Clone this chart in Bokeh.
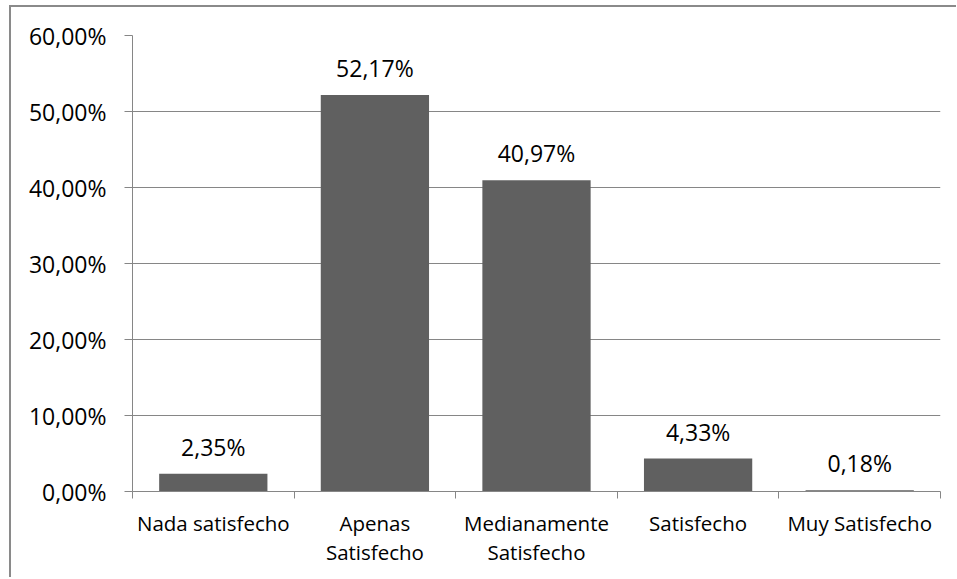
from bokeh.plotting import figure
from bokeh.models import FixedTicker, LabelSet, ColumnDataSource, Range1d
from bokeh.core.properties import value
from bokeh.embed import file_html
from bokeh.resources import INLINE

categories = ["Nada satisfecho", "Apenas\nSatisfecho", "Medianamente\nSatisfecho", "Satisfecho", "Muy Satisfecho"]
values = [2.35, 52.17, 40.97, 4.33, 0.18]
value_labels = ["2,35%", "52,17%", "40,97%", "4,33%", "0,18%"]
y_ticks = [0, 10, 20, 30, 40, 50, 60]
y_tick_labels = ["0,00%", "10,00%", "20,00%", "30,00%", "40,00%", "50,00%", "60,00%"]

FONT = "Open Sans"
FS_NUM = "23px"
FS_CAT = "20.5px"
GRAY = "#868686"
BAR = "#606060"

xs = [i + 0.5 for i in range(len(categories))]
src = ColumnDataSource(dict(x=xs, top=values, lab=value_labels))

p = figure(frame_width=808, frame_height=456, output_backend="svg", toolbar_location=None,
           x_range=Range1d(0, len(categories)), y_range=Range1d(0, 60),
           min_border_left=132, min_border_right=16, min_border_top=35, min_border_bottom=86)
p.outline_line_color = None
p.background_fill_color = "white"
p.border_fill_color = None
# outer chart-area border (left and top edges are visible in the window)
p.styles = {
    "background-color": "white",
    "background-image": "linear-gradient(#8a8a8a,#8a8a8a), linear-gradient(#8a8a8a,#8a8a8a)",
    "background-size": "2px 100%, 100% 2px",
    "background-position": "9px 5px, 9px 5px",
    "background-repeat": "no-repeat",
}

p.vbar(x="x", top="top", width=0.67, source=src, fill_color=BAR, line_color=None)

labels = LabelSet(x="x", y="top", text="lab", source=src, text_align="center",
                  text_baseline="alphabetic", y_offset=18, text_font=value(FONT),
                  text_font_size=value(FS_NUM), text_color="black")
p.add_layout(labels)

# y axis
p.yaxis.ticker = FixedTicker(ticks=y_ticks, minor_ticks=[])
p.yaxis.major_label_overrides = {t: l for t, l in zip(y_ticks, y_tick_labels)}
p.yaxis.major_label_text_font = FONT
p.yaxis.major_label_text_font_size = FS_NUM
p.yaxis.major_label_text_color = "black"
p.yaxis.axis_line_color = GRAY
p.yaxis.major_tick_line_color = GRAY
p.yaxis.major_tick_out = 8
p.yaxis.major_tick_in = 0
p.yaxis.major_label_standoff = 18

# x axis: labels at centres, ticks at boundaries
p.xaxis.ticker = FixedTicker(ticks=xs, minor_ticks=list(range(len(categories) + 1)))
p.xaxis.major_label_overrides = {x: c for x, c in zip(xs, categories)}
p.xaxis.major_label_text_font = FONT
p.xaxis.major_label_text_font_size = FS_CAT
p.xaxis.major_label_text_color = "black"
p.xaxis.major_label_text_line_height = 1.07
p.xaxis.axis_line_color = GRAY
p.xaxis.major_tick_line_color = None
p.xaxis.minor_tick_line_color = GRAY
p.xaxis.minor_tick_out = 7
p.xaxis.minor_tick_in = 0
p.xaxis.major_label_standoff = 10

p.xgrid.grid_line_color = None
p.ygrid.grid_line_color = GRAY
p.ygrid.ticker = FixedTicker(ticks=y_ticks)

open("out.html", "w").write(file_html(p, INLINE))
